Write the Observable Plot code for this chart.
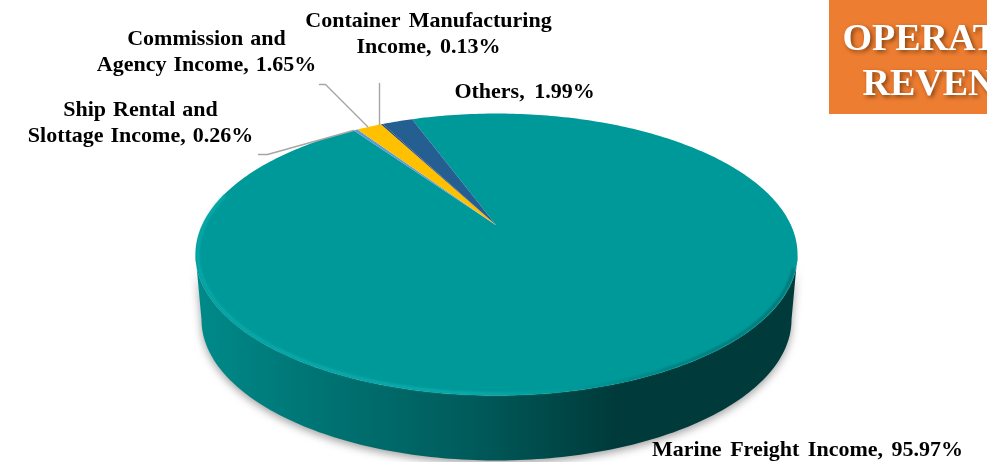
<!DOCTYPE html>
<html>
<head>
<meta charset="utf-8">
<script src="https://cdn.jsdelivr.net/npm/d3@7"></script>
<script src="https://cdn.jsdelivr.net/npm/@observablehq/plot@0.6"></script>
<style>html,body{margin:0;padding:0;background:#fff;overflow:hidden}svg{display:block}</style>
</head>
<body>
<script>
// Data, in clockwise drawing order
const categories = ["Marine Freight Income", "Ship Rental and Slottage Income", "Commission and Agency Income", "Container Manufacturing Income", "Others"];
const shares = [95.97, 0.26, 1.65, 0.13, 1.99];
const sliceColors = ["#009999", "#5b9bd5", "#ffc000", "#264478", "#255e91"];
const labelLines = [
  ["Marine Freight Income,"],
  ["Ship Rental and", "Slottage Income,"],
  ["Commission and", "Agency Income,"],
  ["Container Manufacturing", "Income,"],
  ["Others,"]
];
const titleLines = ["OPERAT", "REVEN"];

// Layout of the tilted pie
const firstAngle = -20, cx = 496, apexY = 225, A = 294.6, B = 135, k = 0.2057, depth = 65, bottomScale = 0.98;
const labelX = [807, 140, 206, 428, 524];
const labelY = [449, 122, 51, 33, 91];
const labelDy = -2;
const labelSpacing = [3, 1.5, 1.5, 3, 4];
const titleX = [843, 863], titleY = [37.5, 82.5];
const leaders = [
  {id: "ship", x: [258, 267, 353], y: [154, 154, 130]},
  {id: "commission", x: [319, 325, 367], y: [84, 84, 126]},
  {id: "container", x: [379, 379], y: [83, 124]}
];

function project(deg, radius = 1) {
  const t = deg * Math.PI / 180, u = radius * Math.sin(t), v = -radius * Math.cos(t), s = 1 / (1 - k * v);
  return {x: cx + A * u * s, y: apexY + B * v * s};
}
function arc(from, to, radius = 1) {
  const n = Math.max(2, Math.ceil(Math.abs(to - from))), out = [];
  for (let i = 0; i <= n; ++i) out.push(project(from + (to - from) * i / n, radius));
  return out;
}

// Slices
const total = d3.sum(shares);
let at = firstAngle;
const slicePoints = categories.flatMap((name, i) => {
  const span = shares[i] / total * 360;
  const pts = [{x: cx, y: apexY}, ...arc(at, at + span), {x: cx, y: apexY}].map(p => ({...p, name}));
  at += span;
  return pts;
});

// Side wall
const edge = Math.acos(-k) * 180 / Math.PI;
const wall = [
  ...arc(edge, 360 - edge),
  ...arc(360 - edge, edge).map(p => ({x: cx + (p.x - cx) * bottomScale, y: p.y + depth}))
];
const rim = arc(edge + 6, 360 - edge + 25, 0.992);

const labels = categories.map((c, i) => ({
  text: [...labelLines[i].slice(0, -1), labelLines[i].at(-1) + " " + shares[i].toFixed(2) + "%"].join("\n"),
  x: labelX[i], y: labelY[i] + labelDy, spacing: labelSpacing[i]
}));
const leaderPoints = leaders.flatMap(l => l.x.map((x, i) => ({id: l.id, x, y: l.y[i]})));
const titles = titleLines.map((t, i) => ({t, x: titleX[i], y: titleY[i]}));

function gradient(id, stops) {
  return `<linearGradient id="${id}" x1="0" x2="1" y1="0" y2="0">` +
    stops.map(([o, c]) => `<stop offset="${o}" stop-color="${c}"/>`).join("") + `</linearGradient>`;
}
const defs = () => {
  const g = d3.create("svg:defs");
  g.html(gradient("wallGrad", [[0, "#008a8a"], [0.18, "#007676"], [0.45, "#005c5c"], [0.7, "#003a3a"], [1, "#003a3a"]]) +
         gradient("rimGrad", [[0, "#0aacac"], [0.45, "#0cb0b0"], [0.62, "#009a9a"], [0.8, "#007c7c"], [1, "#007272"]]));
  return g.node();
};

const font = "Liberation Serif, Times New Roman, serif";
const chart = Plot.plot({
  width: 987, height: 462, margin: 0,
  x: {domain: [0, 987], range: [0, 987], axis: null},
  y: {domain: [0, 462], range: [0, 462], axis: null},
  color: {domain: categories, range: sliceColors},
  style: {background: "#fff", fontFamily: font},
  marks: [
    defs,
    Plot.line(wall, {x: "x", y: "y", fill: "#a0a0a0", stroke: "none", dy: 3, imageFilter: "blur(4px)"}),
    Plot.line(wall, {x: "x", y: "y", fill: "url(#wallGrad)", stroke: "none"}),
    Plot.line(slicePoints, {x: "x", y: "y", z: "name", fill: "name", stroke: "none", curve: "linear"}),
    Plot.line(rim, {x: "x", y: "y", stroke: "url(#rimGrad)", strokeWidth: 2.5, imageFilter: "blur(1px)"}),
    Plot.line(leaderPoints, {x: "x", y: "y", z: "id", stroke: "#a6a6a6", strokeWidth: 1.4}),
    Plot.rect([0], {x1: () => 829, x2: () => 987, y1: () => 0, y2: () => 114, fill: "#ed7d31"}),
    Plot.text(titles, {x: "x", y: "y", text: "t", textAnchor: "start", fill: "#fff", fontSize: 38, fontWeight: 700, fontFamily: font, dx: -1, imageFilter: "drop-shadow(2px 2px 2px rgba(60,30,0,.6))"}),
    ...labels.map(l => Plot.text([l], {x: "x", y: "y", text: "text", fill: "#000", fontSize: 22, fontWeight: 700, fontFamily: font, lineHeight: 1.18, imageFilter: "blur(0.3px)"}))
  ]
});
const textGroups = d3.select(chart).selectAll('g[aria-label="text"]').nodes();
labels.forEach((l, i) => d3.select(textGroups[i + 1]).style("word-spacing", l.spacing + "px"));
document.body.appendChild(chart);
</script>
</body>
</html>
